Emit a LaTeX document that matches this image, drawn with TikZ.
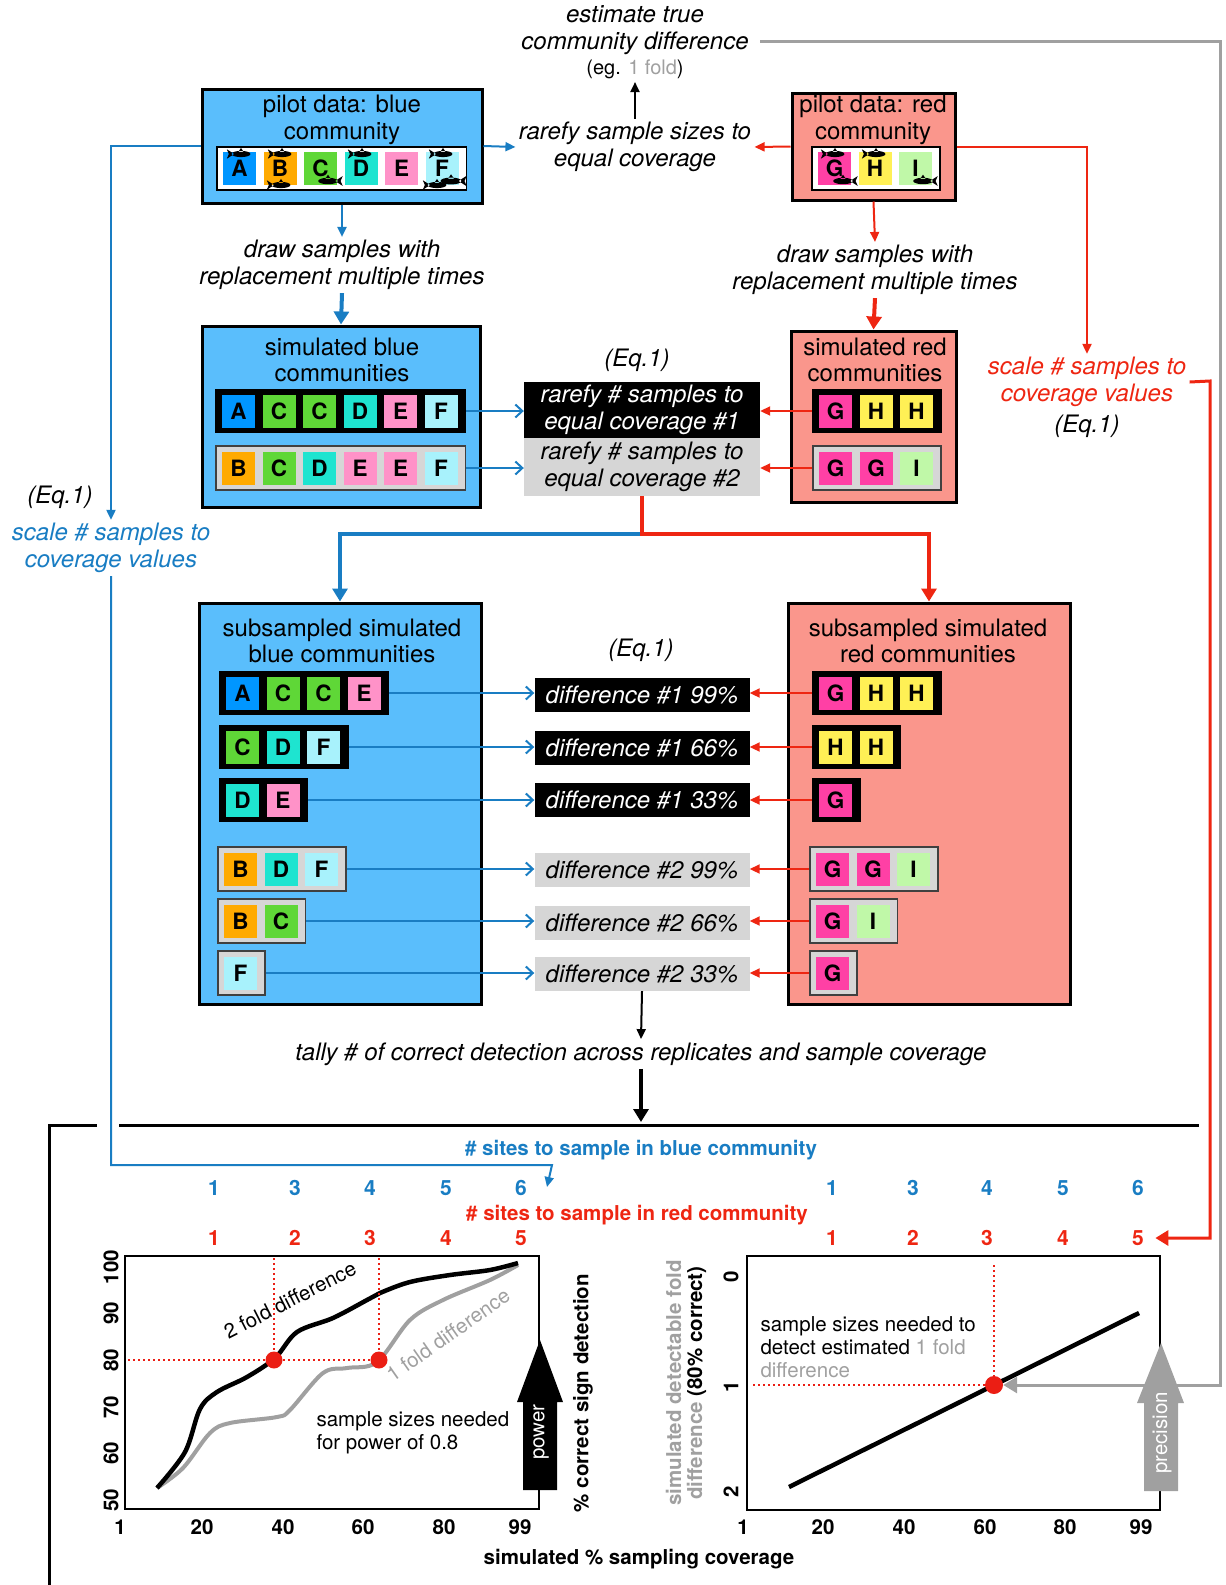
\documentclass[tikz,border=0pt]{standalone}
\usepackage{fontspec}
\setmainfont{TeX Gyre Heros}
\usetikzlibrary{arrows.meta}

\definecolor{boxblue}{RGB}{90,190,252}
\definecolor{boxred}{RGB}{250,150,140}
\definecolor{boxgray}{RGB}{214,214,214}
\definecolor{lineblue}{RGB}{25,125,195}
\definecolor{linered}{RGB}{238,38,18}
\definecolor{linegray}{RGB}{160,160,160}
\definecolor{dotred}{RGB}{235,30,20}
\definecolor{sqA}{RGB}{0,150,255}
\definecolor{sqB}{RGB}{255,170,0}
\definecolor{sqC}{RGB}{95,215,55}
\definecolor{sqD}{RGB}{30,228,208}
\definecolor{sqE}{RGB}{255,146,200}
\definecolor{sqF}{RGB}{168,242,252}
\definecolor{sqG}{RGB}{255,64,165}
\definecolor{sqH}{RGB}{255,240,85}
\definecolor{sqI}{RGB}{192,248,168}

\newcommand{\fmain}{\fontsize{24}{26.5}\selectfont}
\newcommand{\fsmall}{\fontsize{20.5}{23}\selectfont}

\tikzset{
  bbox/.style={draw=black, line width=3pt, fill=boxblue, inner sep=0pt},
  rbox/.style={draw=black, line width=3pt, fill=boxred, inner sep=0pt},
  ttl/.style={font=\fmain, align=center},
  lbl/.style={font=\fmain\itshape, align=center},
  sq/.style={minimum size=33pt, inner sep=0pt, font=\fontsize{22.5}{22.5}\selectfont\bfseries},
  blackrow/.style={fill=black, draw=black, line width=1.5pt, minimum height=43pt, inner sep=0pt},
  grayrow/.style={fill=boxgray, draw=black!75, line width=1.5pt, minimum height=44pt, inner sep=0pt},
  whiterow/.style={fill=white, draw=black, line width=1.5pt, minimum height=43pt, inner sep=0pt},
  darkbox/.style={fill=black, text=white, font=\fmain\itshape, align=center, inner sep=0pt},
  lightbox/.style={fill=boxgray, font=\fmain\itshape, align=center, inner sep=0pt},
  barr/.style={draw=lineblue, line width=2pt, -{Straight Barb[length=7pt,width=13pt]}},
  barrtip/.style={draw=lineblue, line width=2pt, -{Triangle[length=10pt,width=9pt]}},
  rarr/.style={draw=linered, line width=2pt, -{Triangle[length=10pt,width=9pt]}},
  bthick/.style={draw=lineblue, line width=4pt, -{Triangle[length=13pt,width=15pt]}},
  rthick/.style={draw=linered, line width=4pt, -{Triangle[length=13pt,width=15pt]}},
  kthin/.style={draw=black, line width=2pt, -{Triangle[length=10pt,width=9pt]}},
  kthick/.style={draw=black, line width=4pt, -{Triangle[length=13pt,width=15pt]}},
  numB/.style={font=\fontsize{21}{21}\selectfont\bfseries, text=lineblue},
  numR/.style={font=\fontsize{21}{21}\selectfont\bfseries, text=linered},
  axnum/.style={font=\fontsize{20.5}{20.5}\selectfont\bfseries},
  redot/.style={draw=dotred, line width=2pt, dash pattern=on 2pt off 3pt},
  dot/.style={circle, fill=dotred, inner sep=0pt, minimum size=#1},
}

% ряд квадратиков: имя, стиль, левый край, y, число, буквы
\newcommand{\strip}[6]{%
  \node [#2, minimum width={6.5+40.5*#5}, anchor=west] (#1) at ( #3, #4 ) {};
  \foreach \lt [count=\i] in {#6}
    \node [sq, fill=sq\lt] at ( {#3+23.5+(\i-1)*40.5}, #4 ) {\lt};
}

% рыбка: x, y, масштаб, направление
\newcommand{\fishy}[4]{%
  \fill [shift={( #1, #2 )}, xscale={#4*#3}, yscale=#3]
    ( 0, 0 ) ellipse [x radius=7pt, y radius=2.3pt]
    ( 5, 0 ) -- ( 10.5, -3.5 ) -- ( 9, 0 ) -- ( 10.5, 3.5 ) -- cycle
    ( -2, -1.5 ) -- ( 0, -4.5 ) -- ( 2, -1.5 ) -- cycle;
}

\begin{document}
\begin{tikzpicture}[x=1pt, y=-1pt]
\useasboundingbox ( 0, 0 ) rectangle ( 1226, 1585 );

% верх
\node [lbl] (est) at ( 635, 30 ) {estimate true\\community difference};
\node [font=\fontsize{20}{22}\selectfont] (eg) at ( 635, 69 ) {(eg. \textcolor{linegray}{1 fold})};
\node [lbl] (rarTop) at ( 635, 147 ) {rarefy sample sizes to\\equal coverage};
\draw [kthin] (rarTop.north) -- (eg.south);

% пилотные данные
\node [bbox, minimum width=280pt, minimum height=114pt] (pilotB) at ( 342, 146 ) {};
\node [ttl] at ( 342, 120 ) {pilot data: blue\\community};
\strip{pstripB}{whiterow}{216}{168.5}{6}{A,B,C,D,E,F}
\node [rbox, minimum width=163pt, minimum height=107pt] (pilotR) at ( 873.5, 146.5 ) {};
\node [ttl] at ( 873, 120 ) {pilot data: red\\community};
\strip{pstripR}{whiterow}{811}{168.5}{3}{G,H,I}

% рыбки
\fishy{241}{154}{1.35}{-1}
\fishy{282}{154}{1.35}{-1}
\fishy{281}{185}{1.35}{-1}
\fishy{328}{181}{1.4}{1}
\fishy{362}{154}{1.35}{-1}
\fishy{443}{154}{1.35}{-1}
\fishy{437}{185}{1.35}{-1}
\fishy{451}{181}{1.5}{1}
\fishy{835}{154}{1.35}{-1}
\fishy{843}{181}{1.4}{1}
\fishy{876}{154}{1.35}{-1}
\fishy{923}{181}{1.4}{1}

\draw [barrtip] (pilotB.east) -- (rarTop.west);
\draw [rarr] (pilotR.west) -- (rarTop.east);

% масштабирование
\node [lbl, text=lineblue] (scaleB) at ( 111, 548 ) {scale \# samples to\\coverage values};
\node [lbl] at ( 60, 497 ) {(Eq.1)};
\draw [barrtip] (pilotB.west) -| (scaleB.north);
\node [lbl, text=linered] (scaleR) at ( 1087, 382 ) {scale \# samples to\\coverage values};
\node [lbl] at ( 1087, 426 ) {(Eq.1)};
\draw [rarr] (pilotR.east) -| (scaleR.north);

% выборки с возвращением
\node [lbl] (drawB) at ( 342, 265 ) {draw samples with\\replacement multiple times};
\node [lbl] (drawR) at ( 875, 270 ) {draw samples with\\replacement multiple times};
\draw [barrtip] (pilotB.south) -- (drawB.north);
\draw [rarr] (pilotR.south) -- (drawR.north);

\node [bbox, minimum width=278pt, minimum height=181pt] (simB) at ( 341, 416.5 ) {};
\node [ttl] at ( 342, 360 ) {simulated blue\\communities};
\strip{simB1}{blackrow}{215}{411}{6}{A,C,C,D,E,F}
\strip{simB2}{grayrow}{215}{468}{6}{B,C,D,E,E,F}
\node [rbox, minimum width=165pt, minimum height=171pt] (simR) at ( 873.5, 416.5 ) {};
\node [ttl] at ( 875, 360 ) {simulated red\\communities};
\strip{simR1}{blackrow}{812}{411}{3}{G,H,H}
\strip{simR2}{grayrow}{812}{468}{3}{G,G,I}
\draw [bthick] (drawB.south) -- (simB.north);
\draw [rthick] (drawR.south) -- (simR.north);

% разрежение
\node [lbl] at ( 637, 360 ) {(Eq.1)};
\node [darkbox, minimum width=236pt, minimum height=56pt] (rar1) at ( 642, 410 ) {rarefy \# samples to\\equal coverage \#1};
\node [lightbox, minimum width=236pt, minimum height=58pt] (rar2) at ( 642, 467 ) {rarefy \# samples to\\equal coverage \#2};
\draw [barr] (simB1.east) -- (rar1.west |- simB1.east);
\draw [barr] (simB2.east) -- (rar2.west |- simB2.east);
\draw [rarr] (simR1.west) -- (rar1.east |- simR1.west);
\draw [rarr] (simR2.west) -- (rar2.east |- simR2.west);

% подвыборки
\node [bbox, minimum width=282pt, minimum height=401pt] (subB) at ( 340, 803.5 ) {};
\node [ttl] at ( 342, 641 ) {subsampled simulated\\blue communities};
\node [rbox, minimum width=282pt, minimum height=401pt] (subR) at ( 929, 803.5 ) {};
\node [ttl] at ( 928, 641 ) {subsampled simulated\\red communities};

\coordinate (split) at ( 642, 534 );
\draw [bthick] (split) -| (subB.north);
\draw [rthick] (rar2.south) -- (split) -| (subR.north);

\strip{sb1}{blackrow}{219}{693}{4}{A,C,C,E}
\strip{sb2}{blackrow}{219}{747}{3}{C,D,F}
\strip{sb3}{blackrow}{219}{800}{2}{D,E}
\strip{sb4}{grayrow}{217}{869}{3}{B,D,F}
\strip{sb5}{grayrow}{217}{921}{2}{B,C}
\strip{sb6}{grayrow}{217}{973}{1}{F}
\strip{sr1}{blackrow}{812}{693}{3}{G,H,H}
\strip{sr2}{blackrow}{812}{747}{2}{H,H}
\strip{sr3}{blackrow}{812}{800}{1}{G}
\strip{sr4}{grayrow}{809}{869}{3}{G,G,I}
\strip{sr5}{grayrow}{809}{921}{2}{G,I}
\strip{sr6}{grayrow}{809}{973}{1}{G}

\node [lbl] at ( 641, 650 ) {(Eq.1)};
\foreach \k/\y/\st/\lab in {1/695/darkbox/{\#1 99\%}, 2/748/darkbox/{\#1 66\%}, 3/800/darkbox/{\#1 33\%},
                            4/870/lightbox/{\#2 99\%}, 5/923/lightbox/{\#2 66\%}, 6/974/lightbox/{\#2 33\%}}
  \node [\st, minimum width=215pt, minimum height=34pt] (d\k) at ( 642, \y ) {difference \lab};
\foreach \k in {1,...,6} {
  \draw [barr] (sb\k.east) -- (d\k.west |- sb\k.east);
  \draw [rarr] (sr\k.west) -- (d\k.east |- sr\k.west);
}

% подсчёт
\node [lbl] (tally) at ( 641, 1054 ) {tally \# of correct detection across replicates and sample coverage};
\draw [kthin] (d6.south) -- (tally.north);
\coordinate (frameTop) at ( 641, 1122 );
\draw [kthick] (tally.south) -- (frameTop);

% рамка снизу
\draw [line width=3pt] ( 49, 1585 ) -- ( 49, 1125 ) -- ( 97, 1125 );
\draw [line width=3pt] ( 119, 1125 ) -- ( 1199, 1125 );

\coordinate (bTurn) at ( 552, 1165 );
\coordinate (bEnd) at ( 547, 1187 );
\draw [barrtip] (scaleB.south) |- (bTurn) -- (bEnd);

% подписи осей сверху
\node [font=\fsmall\bfseries, text=lineblue] at ( 641, 1150 ) {\# sites to sample in blue community};
\node [font=\fsmall\bfseries, text=linered] at ( 637, 1215 ) {\# sites to sample in red community};
\foreach \n/\x in {1/214, 3/295, 4/370, 5/446, 6/521, 1/832, 3/913, 4/987, 5/1063, 6/1138}
  \node [numB] at ( \x, 1188 ) {\n};
\foreach \n/\x in {1/214, 2/295, 3/370, 4/446, 5/521}
  \node [numR] at ( \x, 1238 ) {\n};
\foreach \n/\x in {1/832, 2/913, 3/987, 4/1063, 5/1138}
  \node [numR] (rr\n) at ( \x, 1238 ) {\n};

% график мощности
\draw [line width=2pt] ( 125, 1256 ) rectangle ( 539, 1509 );
\foreach \v/\y in {50/1500, 60/1453, 70/1407, 80/1360, 90/1313, 100/1267}
  \node [axnum, rotate=90] at ( 111, \y ) {\v};
\foreach \v/\x in {1/120, 20/202, 40/283, 60/363, 80/444, 99/520}
  \node [axnum] at ( \x, 1527 ) {\v};
\draw [linegray, line width=4pt] plot [smooth, tension=0.55] coordinates {
  ( 157, 1488 ) ( 183, 1468 ) ( 210, 1433 ) ( 230, 1423 ) ( 277, 1417 ) ( 290, 1410 ) ( 323, 1373 )
  ( 347, 1368 ) ( 377, 1362 ) ( 410, 1320 ) ( 443, 1300 ) ( 490, 1280 ) ( 518, 1265 ) };
\draw [black, line width=4.5pt] plot [smooth, tension=0.55] coordinates {
  ( 157, 1488 ) ( 185, 1452 ) ( 200, 1409 ) ( 217, 1392 ) ( 247, 1377 ) ( 275, 1358 ) ( 297, 1332 )
  ( 333, 1318 ) ( 367, 1300 ) ( 380, 1293 ) ( 410, 1282 ) ( 450, 1275 ) ( 490, 1270 ) ( 518, 1263 ) };
\draw [redot] ( 128, 1360 ) -- ( 379, 1360 );
\draw [redot] ( 274, 1258 ) -- ( 274, 1360 );
\draw [redot] ( 379, 1258 ) -- ( 379, 1360 );
\fill [dotred] ( 274, 1360 ) circle [radius=8.5pt];
\fill [dotred] ( 379, 1360 ) circle [radius=8.5pt];
\node [font=\fsmall, rotate=27] at ( 290, 1300 ) {2 fold difference};
\node [font=\fsmall, rotate=35, text=linegray] at ( 448, 1335 ) {1 fold difference};
\node [font=\fsmall, align=left, anchor=west] at ( 313, 1433 ) {sample sizes needed\\for power of 0.8};
\fill [black] ( 523, 1490 ) -- ( 523, 1402 ) -- ( 517, 1402 ) -- ( 540, 1340 ) -- ( 563, 1402 ) -- ( 557, 1402 ) -- ( 557, 1490 ) -- cycle;
\node [font=\fsmall, text=white, rotate=90] at ( 541, 1432 ) {power};
\node [font=\fsmall\bfseries, rotate=90] at ( 583, 1393 ) {\% correct sign detection};

% график точности
\draw [line width=2pt] ( 747, 1256 ) rectangle ( 1160, 1510 );
\foreach \v/\y in {0/1277, 1/1387, 2/1492}
  \node [axnum, rotate=90] at ( 731, \y ) {\v};
\foreach \v/\x in {1/743, 20/823, 40/904, 60/985, 80/1065, 99/1141}
  \node [axnum] at ( \x, 1527 ) {\v};
\node [font=\fontsize{20.5}{21}\selectfont\bfseries, rotate=90, align=center] at ( 686, 1383 )
  {\textcolor{linegray}{simulated detectable fold}\\\textcolor{linegray}{difference} (80\% correct)};
\draw [black, line width=4.5pt] ( 789, 1487 ) -- ( 1139, 1313 );
\draw [redot] ( 753, 1385 ) -- ( 994, 1385 );
\draw [redot] ( 994, 1265 ) -- ( 994, 1385 );
\node [dot=18pt] (dotP) at ( 994, 1385 ) {};
\node [font=\fsmall, align=left, anchor=west] at ( 757, 1347 )
  {sample sizes needed to\\detect estimated \textcolor{linegray}{1 fold}\\\textcolor{linegray}{difference}};
\fill [linegray] ( 1144, 1491 ) -- ( 1144, 1403 ) -- ( 1137, 1403 ) -- ( 1161, 1343 ) -- ( 1184, 1403 ) -- ( 1178, 1403 ) -- ( 1178, 1491 ) -- cycle;
\node [font=\fsmall, text=white, rotate=90] at ( 1162, 1433 ) {precision};
\node [font=\fsmall\bfseries] at ( 639, 1559 ) {simulated \% sampling coverage};

% обратные связи
\coordinate (gR) at ( 1220, 41 );
\draw [linegray, line width=3pt, -{Triangle[length=14pt,width=16pt]}] ([xshift=8pt, yshift=-11pt]est.east) -- (gR) |- (dotP.east);
\coordinate (rR) at ( 1210, 381 );
\draw [linered, line width=3pt, -{Triangle[length=13pt,width=15pt]}] (scaleR.east) -- (rR) |- ([xshift=8pt]rr5.east);
\end{tikzpicture}
\end{document}
